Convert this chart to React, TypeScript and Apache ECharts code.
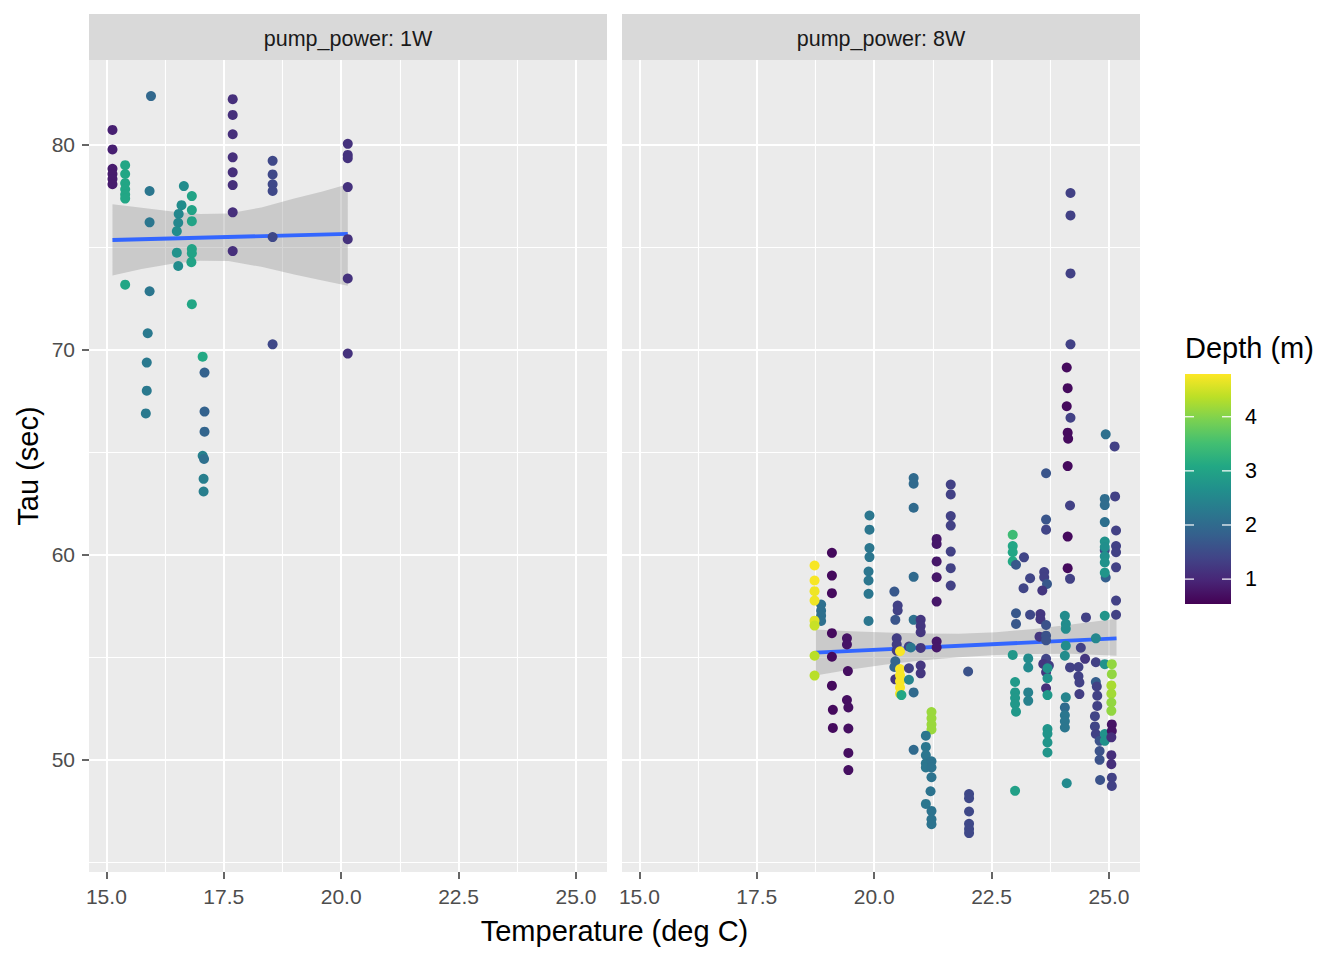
import React, { useEffect, useRef } from "react";
import * as echarts from "echarts";

// ---------------- data ----------------
const panelNames = ["pump_power: 1W", "pump_power: 8W"];
const xTicks = [15, 17.5, 20, 22.5, 25];
const xMinor = [16.25, 18.75, 21.25, 23.75];
const yTicks = [50, 60, 70, 80];
const yMinor = [45, 55, 65, 75];
const legendTicks = [1, 2, 3, 4];
const depthRange = [0.54, 4.79];
const viridis = ["#440154", "#482576", "#414487", "#35608D", "#2A788E", "#21908C", "#22A884", "#43BF71", "#7AD151", "#BBDF27", "#FDE725"];

// [temperature, tau, depth]
const pump1W: number[][] = [
  [15.13, 80.7, 0.9], [15.13, 79.75, 0.9], [15.13, 78.8, 0.85], [15.13, 78.55, 0.85], [15.13, 78.3, 0.85], [15.13, 78.05, 0.85],
  [15.4, 78.98, 3.05], [15.4, 78.55, 3.05], [15.4, 78.1, 3.05], [15.4, 77.8, 3.05], [15.4, 77.55, 3.05], [15.4, 77.35, 3.05], [15.4, 73.15, 3.05],
  [15.95, 82.35, 1.95], [15.92, 77.72, 2.2], [15.92, 76.19, 2.2], [15.92, 72.83, 2.2], [15.88, 70.78, 2.25], [15.86, 69.35, 2.25], [15.86, 67.98, 2.25], [15.84, 66.87, 2.25],
  [16.65, 77.96, 2.6], [16.82, 77.47, 3.0], [16.6, 77.03, 2.6], [16.82, 76.79, 3.0], [16.54, 76.6, 2.5], [16.82, 76.25, 3.0], [16.53, 76.17, 2.5],
  [16.5, 75.76, 2.6], [16.5, 74.71, 2.7], [16.82, 74.89, 3.0], [16.82, 74.68, 3.0], [16.81, 74.25, 3.0], [16.53, 74.06, 2.6], [16.82, 72.2, 3.05],
  [17.05, 69.64, 3.1], [17.09, 68.86, 1.85], [17.09, 66.96, 1.85], [17.09, 65.98, 1.9], [17.05, 64.8, 2.4], [17.08, 64.65, 2.1], [17.07, 63.68, 2.35], [17.07, 63.06, 2.35],
  [17.69, 82.2, 1.1], [17.69, 81.43, 1.1], [17.69, 80.49, 1.1], [17.69, 79.36, 1.1], [17.69, 78.63, 1.1], [17.69, 78.01, 1.1], [17.69, 76.68, 1.1], [17.69, 74.79, 1.1],
  [18.54, 79.19, 1.45], [18.54, 78.53, 1.45], [18.54, 78.05, 1.45], [18.54, 77.72, 1.45], [18.54, 75.47, 1.45], [18.54, 70.24, 1.45],
  [20.14, 80.02, 1.15], [20.14, 79.48, 1.15], [20.14, 79.32, 1.15], [20.14, 77.91, 1.15], [20.14, 75.37, 1.15], [20.14, 73.45, 1.15], [20.14, 69.79, 1.15],
];

const pump8W: number[][] = [
  [18.87, 57.55, 2.1], [18.87, 57.25, 2.1], [18.87, 57.0, 2.1], [18.87, 56.75, 2.1],
  [18.73, 59.45, 4.75], [18.73, 58.72, 4.75], [18.73, 58.2, 4.7], [18.73, 57.74, 4.7], [18.73, 56.76, 4.6], [18.73, 56.52, 4.45], [18.73, 55.05, 4.35], [18.73, 54.08, 4.35],
  [19.1, 60.07, 0.65], [19.1, 58.96, 0.65], [19.1, 58.1, 0.65], [19.1, 56.15, 0.65], [19.1, 55.0, 0.65], [19.1, 53.59, 0.65], [19.12, 52.41, 0.65], [19.12, 51.53, 0.65],
  [19.42, 55.9, 0.75], [19.42, 55.6, 0.75], [19.44, 54.3, 0.7], [19.42, 52.89, 0.7], [19.45, 52.53, 0.7], [19.45, 51.5, 0.7], [19.45, 50.31, 0.7], [19.45, 49.47, 0.7],
  [19.9, 61.89, 2.2], [19.9, 61.2, 2.2], [19.9, 60.3, 2.2], [19.9, 59.86, 2.2], [19.88, 59.16, 2.2], [19.88, 58.72, 2.2], [19.88, 58.07, 2.2], [19.88, 56.75, 2.2],
  [20.43, 58.18, 1.7], [20.5, 57.5, 1.35], [20.5, 57.26, 1.35], [20.45, 56.8, 1.65], [20.48, 55.9, 1.3], [20.48, 55.6, 1.3], [20.48, 55.3, 1.3],
  [20.45, 54.78, 1.9], [20.43, 54.5, 1.9], [20.45, 53.9, 1.2],
  [20.55, 55.27, 4.75], [20.55, 54.4, 4.75], [20.55, 54.1, 4.75], [20.55, 53.8, 4.75], [20.55, 53.5, 4.75], [20.55, 53.2, 4.75], [20.58, 53.13, 3.05],
  [20.74, 55.5, 1.35], [20.78, 55.45, 2.2], [20.74, 54.44, 1.35], [20.74, 53.88, 2.45], [20.84, 53.26, 2.0], [20.84, 56.8, 2.1],
  [20.84, 63.72, 2.0], [20.84, 63.44, 2.0], [20.84, 62.27, 2.0], [20.84, 58.9, 2.0], [20.84, 50.46, 2.0],
  [20.99, 56.8, 1.2], [20.99, 56.5, 1.2], [20.99, 56.2, 1.2], [20.99, 55.43, 1.2], [20.99, 54.57, 1.2], [20.99, 54.19, 1.2],
  [21.33, 60.75, 0.8], [21.33, 60.5, 0.8], [21.33, 59.65, 0.8], [21.33, 58.88, 0.8], [21.33, 57.69, 0.8], [21.33, 55.74, 0.8], [21.33, 55.45, 0.8],
  [21.22, 52.3, 4.15], [21.22, 52.0, 4.15], [21.22, 51.7, 4.15], [21.22, 51.45, 4.15],
  [21.1, 51.15, 2.2], [21.1, 50.6, 2.2], [21.1, 50.2, 2.2], [21.1, 49.8, 2.2], [21.1, 49.6, 2.2], [21.22, 49.9, 2.15], [21.22, 49.6, 2.15], [21.22, 49.12, 2.15],
  [21.2, 48.44, 2.15], [21.1, 47.82, 2.2], [21.22, 47.48, 2.15], [21.22, 47.07, 2.15], [21.22, 46.83, 2.15],
  [21.63, 63.4, 1.35], [21.63, 62.92, 1.35], [21.63, 61.86, 1.35], [21.63, 61.4, 1.35], [21.63, 60.13, 1.35], [21.63, 59.32, 1.35], [21.63, 58.47, 1.35],
  [22.0, 54.28, 1.6], [22.02, 48.3, 1.45], [22.02, 48.1, 1.45], [22.02, 47.45, 1.45], [22.02, 46.85, 1.45], [22.02, 46.6, 1.45], [22.02, 46.4, 1.45],
  [22.95, 60.95, 3.45], [22.95, 60.4, 3.05], [22.95, 60.1, 3.05], [22.95, 59.65, 3.1], [23.02, 59.49, 1.7], [23.02, 57.12, 1.7], [23.02, 56.6, 1.7],
  [22.95, 55.09, 2.8], [23.0, 53.77, 2.85], [23.0, 53.26, 2.8], [23.0, 52.99, 2.8], [23.0, 52.7, 2.8], [23.02, 52.32, 2.8], [23.0, 48.46, 2.95],
  [23.19, 59.85, 1.4], [23.32, 58.83, 1.4], [23.18, 58.34, 1.4], [23.32, 57.05, 1.45], [23.28, 54.92, 2.6], [23.28, 54.48, 2.55], [23.28, 53.26, 2.4], [23.28, 52.85, 2.4],
  [23.66, 63.95, 1.65], [23.66, 61.69, 1.65], [23.66, 61.2, 1.4], [23.62, 59.13, 1.35], [23.62, 58.88, 1.35], [23.68, 58.55, 1.7], [23.58, 58.23, 1.2],
  [23.54, 57.08, 1.2], [23.54, 56.83, 1.2], [23.66, 56.55, 1.6], [23.52, 55.98, 1.2], [23.66, 56.03, 1.6], [23.66, 55.8, 1.6],
  [23.66, 54.9, 1.4], [23.6, 54.65, 1.2], [23.72, 54.57, 1.3], [23.66, 54.25, 1.2], [23.66, 53.46, 1.1],
  [23.69, 54.44, 2.7], [23.69, 53.95, 2.7], [23.69, 53.13, 2.8], [23.69, 51.47, 2.75], [23.69, 51.24, 2.75], [23.69, 50.82, 2.75], [23.69, 50.33, 2.75],
  [24.18, 77.62, 1.35], [24.18, 76.53, 1.35], [24.18, 73.7, 1.35], [24.18, 70.24, 1.35], [24.1, 69.11, 0.65], [24.12, 68.1, 0.65], [24.1, 67.22, 0.65],
  [24.18, 66.66, 1.35], [24.12, 65.93, 0.65], [24.13, 65.64, 0.65], [24.12, 64.3, 0.65], [24.17, 62.38, 1.35], [24.12, 60.86, 0.65], [24.12, 59.32, 0.65], [24.17, 58.8, 1.35],
  [24.06, 57.0, 2.6], [24.08, 56.6, 2.6], [24.08, 56.36, 2.6], [24.08, 55.54, 2.6], [24.06, 55.05, 2.6],
  [24.08, 53.02, 2.45], [24.06, 52.53, 2.0], [24.06, 52.15, 2.2], [24.06, 51.85, 2.2], [24.06, 51.55, 2.2], [24.17, 54.48, 1.35], [24.1, 48.83, 2.55],
  [24.51, 56.92, 1.35], [24.4, 55.44, 1.35], [24.49, 54.9, 1.2], [24.35, 54.5, 1.35], [24.35, 54.05, 1.35], [24.37, 53.75, 1.35], [24.37, 53.18, 1.3],
  [24.93, 65.85, 2.1], [24.91, 62.7, 2.05], [24.91, 62.4, 2.05], [24.91, 61.57, 2.1], [24.91, 60.2, 1.5], [24.93, 58.87, 1.8],
  [24.91, 60.62, 2.7], [24.91, 60.35, 2.65], [24.91, 59.9, 2.65], [24.91, 59.6, 2.7], [24.91, 59.1, 2.75], [24.91, 57.0, 2.75],
  [24.72, 55.9, 2.5], [24.72, 54.73, 1.35], [24.72, 53.77, 1.8], [24.74, 53.55, 1.35], [24.75, 53.1, 1.35], [24.75, 52.6, 1.35],
  [24.7, 52.1, 1.4], [24.7, 51.6, 1.4], [24.72, 51.23, 1.35], [24.8, 50.9, 1.6], [24.8, 50.4, 1.6], [24.8, 49.97, 1.6], [24.81, 48.99, 1.6],
  [24.91, 54.64, 2.7], [24.91, 51.23, 2.7], [24.91, 50.9, 2.7],
  [25.12, 65.26, 1.35], [25.13, 62.82, 1.35], [25.15, 61.16, 1.35], [25.15, 60.4, 1.35], [25.15, 60.1, 1.35], [25.15, 59.36, 1.35], [25.15, 57.74, 1.35], [25.15, 57.05, 1.35],
  [25.06, 54.64, 4.1], [25.06, 54.15, 4.1], [25.05, 53.6, 4.25], [25.05, 53.2, 4.2], [25.05, 52.77, 4.1], [25.05, 52.36, 4.1],
  [25.06, 51.7, 0.75], [25.06, 51.38, 0.75], [25.05, 51.07, 1.1], [25.05, 50.2, 1.1], [25.05, 49.76, 1.1], [25.06, 49.1, 1.35], [25.06, 48.7, 1.35],
];

// smooth (lm) fit and confidence band
const fit1W = [[15.13, 75.33], [20.14, 75.63]];
const fit8W = [[18.75, 55.2], [25.16, 55.9]];
const band1X = [15.13, 15.75, 16.4, 17.0, 17.6, 18.3, 19.0, 19.6, 20.14];
const band1Hi = [77.07, 76.9, 76.72, 76.6, 76.62, 76.92, 77.35, 77.7, 78.05];
const band1Lo = [73.6, 73.92, 74.17, 74.32, 74.3, 74.02, 73.65, 73.35, 73.1];
const band8X = [18.75, 19.5, 20.25, 21.0, 21.8, 22.6, 23.4, 24.2, 25.16];
const band8Hi = [56.33, 56.25, 56.18, 56.13, 56.12, 56.2, 56.35, 56.57, 56.85];
const band8Lo = [54.08, 54.38, 54.62, 54.82, 54.97, 55.08, 55.13, 55.15, 55.05];

// ---------------- layout / style ----------------
const FONT = '"Liberation Sans", Arial, Helvetica, sans-serif';
const X_MIN = 14.63, X_MAX = 25.66, Y_MIN = 44.5, Y_MAX = 84.11;
const PANEL_TOP = 60, PANEL_H = 812, PANEL_W = 518;
const PANEL_LEFT = [89, 622];
const STRIP_TOP = 14;
const BAR = { x: 1185, y: 374, w: 46, h: 230 };

function bandSeries(xs: number[], hi: number[], lo: number[], idx: number) {
  return {
    type: "custom",
    xAxisIndex: idx,
    yAxisIndex: idx,
    silent: true,
    z: 2,
    clip: true,
    data: xs.map((x, i) => [x, lo[i], hi[i]]),
    renderItem: (params: any, api: any) => {
      if (params.dataIndex !== 0) return null;
      const top = xs.map((x, i) => api.coord([x, hi[i]]));
      const bottom = xs.map((x, i) => api.coord([x, lo[i]])).reverse();
      return {
        type: "polygon",
        shape: { points: top.concat(bottom) },
        style: { fill: "rgba(153,153,153,0.4)" },
      };
    },
  };
}

function gridSeries(idx: number) {
  const mk = (v: number, key: string, w: number) => ({ [key]: v, lineStyle: { width: w } });
  return {
    type: "line",
    xAxisIndex: idx,
    yAxisIndex: idx,
    data: [],
    silent: true,
    z: 1,
    markLine: {
      silent: true,
      z: 1,
      animation: false,
      symbol: ["none", "none"],
      label: { show: false },
      emphasis: { disabled: true },
      lineStyle: { color: "#FFFFFF", type: "solid" },
      data: [
        ...xMinor.map((v) => mk(v, "xAxis", 1.1)),
        ...yMinor.map((v) => mk(v, "yAxis", 1.1)),
        ...xTicks.map((v) => mk(v, "xAxis", 2)),
        ...yTicks.map((v) => mk(v, "yAxis", 2)),
      ],
    },
  };
}

function fitSeries(d: number[][], idx: number) {
  return {
    type: "line",
    xAxisIndex: idx,
    yAxisIndex: idx,
    data: d,
    symbol: "none",
    silent: true,
    z: 3,
    lineStyle: { color: "#3366FF", width: 3.8 },
  };
}

function scatterSeries(d: number[][], idx: number) {
  return {
    type: "scatter",
    xAxisIndex: idx,
    yAxisIndex: idx,
    data: d,
    symbolSize: 10,
    z: 4,
    itemStyle: { opacity: 1 },
  };
}

function buildOption() {
  const axisText = { color: "#4D4D4D", fontSize: 21, fontFamily: FONT };
  const xAxes = [0, 1].map((i) => ({
    type: "value",
    gridIndex: i,
    min: X_MIN,
    max: X_MAX,
    axisLine: { show: false },
    splitLine: { show: false },
    axisTick: { show: true, customValues: xTicks, length: 7, lineStyle: { color: "#333333", width: 1.5 } },
    axisLabel: { ...axisText, customValues: xTicks, margin: 14, formatter: (v: number) => v.toFixed(1) },
  }));
  const yAxes = [0, 1].map((i) => ({
    type: "value",
    gridIndex: i,
    min: Y_MIN,
    max: Y_MAX,
    axisLine: { show: false },
    splitLine: { show: false },
    axisTick: { show: i === 0, customValues: yTicks, length: 7, lineStyle: { color: "#333333", width: 1.5 } },
    axisLabel: { ...axisText, show: i === 0, customValues: yTicks, margin: 14 },
  }));

  const depthToY = (v: number) => BAR.y + ((depthRange[1] - v) / (depthRange[1] - depthRange[0])) * BAR.h;

  const graphic: any[] = [];
  PANEL_LEFT.forEach((left, i) => {
    graphic.push({
      type: "rect",
      shape: { x: left, y: STRIP_TOP, width: PANEL_W, height: PANEL_TOP - STRIP_TOP },
      style: { fill: "#D9D9D9" },
      silent: true,
    });
    graphic.push({
      type: "text",
      x: left + PANEL_W / 2,
      y: 39,
      style: { text: panelNames[i], fill: "#1A1A1A", font: `21.5px ${FONT}`, textAlign: "center", textVerticalAlign: "middle", align: "center", verticalAlign: "middle" },
      silent: true,
    });
  });
  graphic.push({
    type: "text",
    x: (PANEL_LEFT[0] + PANEL_LEFT[1] + PANEL_W) / 2,
    y: 931,
    style: { text: "Temperature (deg C)", fill: "#000000", font: `29px ${FONT}`, textAlign: "center", textVerticalAlign: "middle", align: "center", verticalAlign: "middle" },
    silent: true,
  });
  graphic.push({
    type: "text",
    x: 28,
    y: PANEL_TOP + PANEL_H / 2,
    rotation: Math.PI / 2,
    style: { text: "Tau (sec)", fill: "#000000", font: `29px ${FONT}`, textAlign: "center", textVerticalAlign: "middle", align: "center", verticalAlign: "middle" },
    silent: true,
  });
  graphic.push({
    type: "text",
    x: BAR.x,
    y: 348,
    style: { text: "Depth (m)", fill: "#000000", font: `29px ${FONT}`, textAlign: "left", textVerticalAlign: "middle", align: "left", verticalAlign: "middle" },
    silent: true,
  });
  graphic.push({
    type: "rect",
    shape: { x: BAR.x, y: BAR.y, width: BAR.w, height: BAR.h },
    style: {
      fill: {
        type: "linear",
        x: 0, y: 1, x2: 0, y2: 0,
        colorStops: viridis.map((c, i) => ({ offset: i / (viridis.length - 1), color: c })),
      },
    },
    silent: true,
  });
  legendTicks.forEach((v) => {
    const y = depthToY(v);
    graphic.push({ type: "line", shape: { x1: BAR.x, y1: y, x2: BAR.x + 9, y2: y }, style: { stroke: "#FFFFFF", lineWidth: 1.2 }, silent: true });
    graphic.push({ type: "line", shape: { x1: BAR.x + BAR.w - 9, y1: y, x2: BAR.x + BAR.w, y2: y }, style: { stroke: "#FFFFFF", lineWidth: 1.2 }, silent: true });
    graphic.push({
      type: "text",
      x: 1245,
      y,
      style: { text: String(v), fill: "#000000", font: `21.5px ${FONT}`, textAlign: "left", textVerticalAlign: "middle", align: "left", verticalAlign: "middle" },
      silent: true,
    });
  });

  return {
    animation: false,
    backgroundColor: "#FFFFFF",
    textStyle: { fontFamily: FONT },
    grid: PANEL_LEFT.map((left) => ({
      left,
      top: PANEL_TOP,
      width: PANEL_W,
      height: PANEL_H,
      show: true,
      backgroundColor: "#EBEBEB",
      borderWidth: 0,
      containLabel: false,
    })),
    xAxis: xAxes,
    yAxis: yAxes,
    visualMap: {
      type: "continuous",
      show: false,
      min: depthRange[0],
      max: depthRange[1],
      dimension: 2,
      seriesIndex: [6, 7],
      inRange: { color: viridis },
    },
    graphic,
    series: [
      gridSeries(0),
      gridSeries(1),
      bandSeries(band1X, band1Hi, band1Lo, 0),
      bandSeries(band8X, band8Hi, band8Lo, 1),
      fitSeries(fit1W, 0),
      fitSeries(fit8W, 1),
      scatterSeries(pump1W, 0),
      scatterSeries(pump8W, 1),
    ],
  };
}

export default function App() {
  const ref = useRef<HTMLDivElement>(null);
  useEffect(() => {
    if (!ref.current) return;
    const chart = echarts.init(ref.current, null, { renderer: "svg" });
    chart.setOption(buildOption() as any);
    return () => chart.dispose();
  }, []);
  return <div ref={ref} style={{ position: "absolute", left: 0, top: 0, width: 1344, height: 960 }} />;
}
